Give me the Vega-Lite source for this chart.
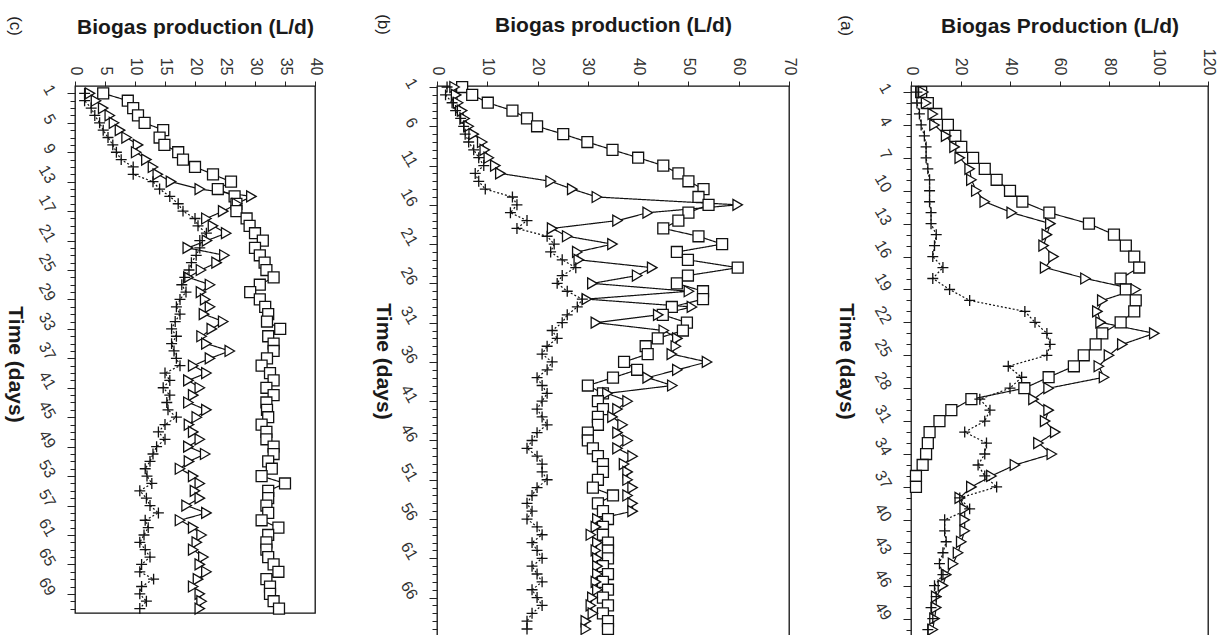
{
"$schema": "https://vega.github.io/schema/vega-lite/v6.json",
"padding": {"left": 3, "top": 13, "right": 10, "bottom": 0},
"bounds": "flush",
"spacing": 122,
"config": {
 "font": "Liberation Sans",
 "view": {"stroke": "#111", "strokeWidth": 1.3},
 "axis": {"grid": false, "domain": false, "labelFont": "Liberation Sans", "labelFontSize": 16, "labelColor": "#333", "titleFont": "Liberation Sans", "titleFontSize": 21, "titleFontWeight": "bold", "titleColor": "#1a1a1a", "tickColor": "#222", "labelOverlap": false, "labelFlush": false}
},
"datasets": {
"c": [
{"d":1,"s":4.7,"t":2.5,"p":1.6},{"d":2,"s":8.8,"t":3.5,"p":1.6},{"d":3,"s":9.7,"t":4.7,"p":2.7},{"d":4,"s":10.5,"t":5.8,"p":3.3},{"d":5,"s":11.6,"t":6.5,"p":4.1},
{"d":6,"s":14.7,"t":7.5,"p":4.7},{"d":7,"s":14.1,"t":8.6,"p":5.5},{"d":8,"s":14.9,"t":10.5,"p":6.3},{"d":9,"s":17.2,"t":10.2,"p":6.9},{"d":10,"s":18,"t":11.9,"p":7.7},
{"d":11,"s":20,"t":13,"p":9.7},{"d":12,"s":23,"t":13.8,"p":9.7},{"d":13,"s":26,"t":16,"p":13},{"d":14,"s":23.8,"t":20.8,"p":14.1},{"d":15,"s":26.6,"t":29.4,"p":15.8},
{"d":16,"s":26.9,"t":27,"p":17.2},{"d":17,"s":26.9,"t":24.7,"p":18},{"d":18,"s":28.6,"t":21.9,"p":20},{"d":19,"s":29.1,"t":23,"p":20.5},{"d":20,"s":30,"t":25.2,"p":21.9},
{"d":21,"s":31.3,"t":22,"p":20.8},{"d":22,"s":30,"t":18.8,"p":20.8},{"d":23,"s":30.8,"t":24.9,"p":20.2},{"d":24,"s":31.6,"t":23.6,"p":19.4},{"d":25,"s":31.9,"t":21,"p":19},
{"d":26,"s":33.1,"t":18.9,"p":18.3},{"d":27,"s":30.8,"t":22.5,"p":17.8},{"d":28,"s":29.2,"t":21,"p":18.5},{"d":29,"s":30.8,"t":21.7,"p":17.5},{"d":30,"s":31.7,"t":22.5,"p":16.9},
{"d":31,"s":32.2,"t":21.5,"p":17.5},{"d":32,"s":32,"t":24.7,"p":16.7},{"d":33,"s":34.2,"t":22.8,"p":16.1},{"d":34,"s":32.2,"t":21.1,"p":16.9},{"d":35,"s":33.1,"t":21.9,"p":16.1},
{"d":36,"s":33.1,"t":25.8,"p":16.5},{"d":37,"s":32,"t":22.5,"p":16.9},{"d":38,"s":31.1,"t":19.7,"p":17.5},{"d":39,"s":32.5,"t":21.9,"p":15},{"d":40,"s":33.1,"t":18.9,"p":15.8},
{"d":41,"s":31.9,"t":20.8,"p":14.7},{"d":42,"s":33.1,"t":19.7,"p":15.8},{"d":43,"s":31.9,"t":18.9,"p":15.3},{"d":44,"s":32,"t":21.9,"p":15.5},{"d":45,"s":32.2,"t":20.3,"p":16.9},
{"d":46,"s":31.1,"t":19,"p":15},{"d":47,"s":31.9,"t":19.7,"p":13.9},{"d":48,"s":31.9,"t":20.8,"p":15},{"d":49,"s":33.1,"t":18.9,"p":13.6},{"d":50,"s":33.1,"t":21.7,"p":13},
{"d":51,"s":32.2,"t":19,"p":12.5},{"d":52,"s":32.8,"t":17.5,"p":11.7},{"d":53,"s":31.1,"t":19.7,"p":12},{"d":54,"s":35,"t":20.8,"p":12.8},{"d":55,"s":32.2,"t":20,"p":10.8},
{"d":56,"s":32.2,"t":20.8,"p":11.9},{"d":57,"s":31.9,"t":18.6,"p":12.5},{"d":58,"s":32.2,"t":21.9,"p":13.9},{"d":59,"s":31.1,"t":17.5,"p":11.7},{"d":60,"s":33.9,"t":19.7,"p":12.2},
{"d":61,"s":32.2,"t":21.1,"p":11.5},{"d":62,"s":31.9,"t":20.3,"p":10.8},{"d":63,"s":31.9,"t":19.7,"p":11.7},{"d":64,"s":32.2,"t":21.4,"p":12.5},{"d":65,"s":33.1,"t":20.8,"p":11.1},
{"d":66,"s":33.9,"t":21.9,"p":10.8},{"d":67,"s":31.9,"t":20.5,"p":13.1},{"d":68,"s":32.5,"t":19.7,"p":11.1},{"d":69,"s":32.5,"t":20.8,"p":10.8},{"d":70,"s":33.1,"t":21.1,"p":11.9},
{"d":71,"s":34,"t":20.8,"p":10.8}
],
"b": [
{"d":1,"s":5,"t":3.5,"p":2},{"d":2,"s":7,"t":3.8,"p":1.7},{"d":3,"s":10.1,"t":4.2,"p":3},{"d":4,"s":15,"t":5,"p":3.7},{"d":5,"s":17.9,"t":5.5,"p":4.7},
{"d":6,"s":19.9,"t":6.3,"p":5.3},{"d":7,"s":25.1,"t":7.3,"p":5.6},{"d":8,"s":29.9,"t":9,"p":6.3},{"d":9,"s":34.9,"t":9.5,"p":7.3},{"d":10,"s":40,"t":10.3,"p":8.3},
{"d":11,"s":45,"t":11.6,"p":9.3},{"d":12,"s":48,"t":12.6,"p":7.6},{"d":13,"s":50,"t":22.6,"p":8.3},{"d":14,"s":53,"t":26.9,"p":9.6},{"d":15,"s":52,"t":31.8,"p":15},
{"d":16,"s":54,"t":59.8,"p":15.9},{"d":17,"s":50,"t":41.9,"p":14.6},{"d":18,"s":48,"t":35.9,"p":17.9},{"d":19,"s":45,"t":22.9,"p":15.9},{"d":20,"s":52,"t":25.9,"p":21.9},
{"d":21,"s":56.7,"t":34.9,"p":23.3},{"d":22,"s":47.7,"t":27.9,"p":22.6},{"d":23,"s":49.9,"t":28.2,"p":24.9},{"d":24,"s":59.8,"t":42.8,"p":27.6},{"d":25,"s":49.9,"t":39.8,"p":24.9},
{"d":26,"s":47.7,"t":30.9,"p":23.9},{"d":27,"s":52.9,"t":50.1,"p":25.9},{"d":28,"s":52.9,"t":29.8,"p":28.9},{"d":29,"s":46.7,"t":50.7,"p":27.9},{"d":30,"s":44.9,"t":44,"p":25.9},
{"d":31,"s":49.7,"t":31.6,"p":24.9},{"d":32,"s":48.9,"t":45.1,"p":22.9},{"d":33,"s":43.9,"t":47.8,"p":23.9},{"d":34,"s":41.5,"t":47.5,"p":21.9},{"d":35,"s":41.9,"t":46.7,"p":20.9},
{"d":36,"s":37.2,"t":53.7,"p":22.9},{"d":37,"s":39.8,"t":47.8,"p":21.9},{"d":38,"s":35,"t":41.9,"p":19.9},{"d":39,"s":30,"t":46.8,"p":20.9},{"d":40,"s":33,"t":33.9,"p":21.9},
{"d":41,"s":32,"t":37.9,"p":20.9},{"d":42,"s":33,"t":35.9,"p":19.9},{"d":43,"s":32,"t":34.9,"p":20.9},{"d":44,"s":32,"t":36.9,"p":21.9},{"d":45,"s":30,"t":35.9,"p":19.9},
{"d":46,"s":30,"t":37.9,"p":18.9},{"d":47,"s":31,"t":35.9,"p":17.9},{"d":48,"s":32,"t":38.9,"p":19.9},{"d":49,"s":33,"t":37.2,"p":20.9},{"d":50,"s":33,"t":37.9,"p":20.9},
{"d":51,"s":32,"t":37.9,"p":21.9},{"d":52,"s":31,"t":38.9,"p":19.9},{"d":53,"s":35,"t":37.9,"p":18.9},{"d":54,"s":32,"t":38.9,"p":17.9},{"d":55,"s":33,"t":38.9,"p":18.9},
{"d":56,"s":34,"t":31.9,"p":17.9},{"d":57,"s":33,"t":31.6,"p":19.9},{"d":58,"s":33,"t":30.6,"p":20.9},{"d":59,"s":34,"t":31.9,"p":18.9},{"d":60,"s":34,"t":31.6,"p":19.9},
{"d":61,"s":34,"t":31.9,"p":20.9},{"d":62,"s":33,"t":31.9,"p":18.9},{"d":63,"s":34,"t":31.9,"p":19.9},{"d":64,"s":33,"t":31.6,"p":20.9},{"d":65,"s":34,"t":31.9,"p":18.9},
{"d":66,"s":33,"t":30.9,"p":19.9},{"d":67,"s":34,"t":30.6,"p":20.9},{"d":68,"s":33,"t":31,"p":18.9},{"d":69,"s":34,"t":29.6,"p":17.9},{"d":70,"s":34,"t":29.6,"p":17.9}
],
"a": [
{"d":1,"s":4.1,"t":5,"p":2.4},{"d":2,"s":6.8,"t":6.1,"p":2.4},{"d":3,"s":10.2,"t":8.8,"p":3.4},{"d":4,"s":14.9,"t":9.5,"p":4.1},{"d":5,"s":17.9,"t":14.2,"p":5.4},
{"d":6,"s":20.3,"t":17.6,"p":6.1},{"d":7,"s":25.1,"t":19.7,"p":6.1},{"d":8,"s":29.8,"t":23.7,"p":6.8},{"d":9,"s":34.6,"t":24.4,"p":7.5},{"d":10,"s":40,"t":26.4,"p":7.5},
{"d":11,"s":45,"t":29.8,"p":7.5},{"d":12,"s":55.9,"t":40.7,"p":8.1},{"d":13,"s":71.9,"t":56.3,"p":8.1},{"d":14,"s":82,"t":54.9,"p":10.2},{"d":15,"s":86.8,"t":53.6,"p":9.5},
{"d":16,"s":90.2,"t":57.6,"p":8.8},{"d":17,"s":92.2,"t":54.2,"p":12.9},{"d":18,"s":84.7,"t":70.5,"p":8.8},{"d":19,"s":86.8,"t":90.8,"p":15.6},{"d":20,"s":90.8,"t":77.3,"p":23.7},
{"d":21,"s":90.2,"t":75.3,"p":46},{"d":22,"s":84.7,"t":76.6,"p":50.1},{"d":23,"s":77.3,"t":98.3,"p":54.9},{"d":24,"s":74.6,"t":85.4,"p":56.2},{"d":25,"s":69.8,"t":80,"p":54.9},
{"d":26,"s":65.8,"t":75.9,"p":39.3},{"d":27,"s":55.6,"t":78,"p":44.7},{"d":28,"s":45.8,"t":55.6,"p":40},{"d":29,"s":24.4,"t":49.5,"p":27.8},{"d":30,"s":16.3,"t":55.6,"p":31.9},
{"d":31,"s":11.5,"t":54.2,"p":29.8},{"d":32,"s":7.5,"t":58.3,"p":21.7},{"d":33,"s":6.8,"t":51.5,"p":30.5},{"d":34,"s":6.1,"t":56.9,"p":29.8},{"d":35,"s":4.7,"t":42,"p":27.1},
{"d":36,"s":2,"t":32.5,"p":29.8},{"d":37,"s":2,"t":24.4,"p":34.6},{"d":38,"t":19.7,"p":19.7},{"d":39,"t":21.7,"p":23.7},{"d":40,"t":21.7,"p":13.6},
{"d":41,"t":21.7,"p":13.6},{"d":42,"t":20.3,"p":14.2},{"d":43,"t":19,"p":12.9},{"d":44,"t":17,"p":11.5},{"d":45,"t":14.2,"p":12.9},
{"d":46,"t":12.9,"p":9.5},{"d":47,"t":10.2,"p":10.2},{"d":48,"t":10.2,"p":8.1},{"d":49,"t":9.5,"p":8.8},{"d":50,"t":8.8,"p":6.8}
]
},
"hconcat": [
{
 "width": 240, "height": 527,
 "data": {"name": "c"},
 "transform": [{"fold": ["s", "t", "p"], "as": ["series", "v"]}],
 "title": {"text": "(c)", "orient": "left", "anchor": "end", "frame": "bounds", "angle": 90, "align": "left", "baseline": "bottom", "fontSize": 17, "fontWeight": "normal", "font": "Liberation Sans", "color": "#222", "offset": -19},
 "encoding": {
  "y": {"field": "d", "type": "quantitative", "scale": {"domain": [0, 71.6], "reverse": true, "nice": false, "zero": false},
   "axis": {"orient": "left", "values": [1,2,3,4,5,6,7,8,9,10,11,12,13,14,15,16,17,18,19,20,21,22,23,24,25,26,27,28,29,30,31,32,33,34,35,36,37,38,39,40,41,42,43,44,45,46,47,48,49,50,51,52,53,54,55,56,57,58,59,60,61,62,63,64,65,66,67,68,69,70,71],
    "format": "d", "labelExpr": "(datum.value - 1) % 4 === 0 ? datum.label : ''", "labelAngle": 60, "labelAlign": "right", "labelBaseline": "middle", "labelPadding": 16,
    "tickSize": {"condition": {"test": "(datum.value - 1) % 4 === 0", "value": 8}, "value": 5},
    "title": "Time  (days)", "titleAngle": 90, "titleBaseline": "top", "titlePadding": 10, "titleY": 278}},
  "x": {"field": "v", "type": "quantitative", "scale": {"domain": [0, 40], "nice": false},
   "axis": {"orient": "top", "values": [0,5,10,15,20,25,30,35,40], "format": "d", "labelAngle": 90, "labelAlign": "right", "labelBaseline": "middle", "tickSize": 5, "labelPadding": 6, "title": "Biogas production (L/d)", "titlePadding": 20}}
 },
 "layer": [
  {"mark": {"type": "line", "stroke": "#111", "strokeWidth": 1.2},
   "encoding": {"detail": {"field": "series"}, "order": {"field": "d", "type": "quantitative"},
    "strokeDash": {"field": "series", "type": "nominal", "scale": {"domain": ["s", "t", "p"], "range": [[1, 0], [1, 0], [2, 2]]}, "legend": null}}},
  {"mark": {"type": "point", "filled": true, "fill": "white", "stroke": "#111", "strokeWidth": 1.3, "opacity": 1, "size": 120},
   "encoding": {"shape": {"field": "series", "type": "nominal", "scale": {"domain": ["s", "t", "p"], "range": ["square", "triangle-right", "M-1,0H1M0,-1V1"]}, "legend": null}}}
 ]
},
{
 "width": 352, "height": 550,
 "data": {"name": "b"},
 "transform": [{"fold": ["s", "t", "p"], "as": ["series", "v"]}],
 "title": {"text": "(b)", "orient": "left", "anchor": "end", "frame": "bounds", "angle": 90, "align": "left", "baseline": "bottom", "fontSize": 17, "fontWeight": "normal", "font": "Liberation Sans", "color": "#222", "offset": -19},
 "encoding": {
  "y": {"field": "d", "type": "quantitative", "scale": {"domain": [0.87, 70.89], "reverse": true, "nice": false, "zero": false},
   "axis": {"orient": "left", "values": [1,2,3,4,5,6,7,8,9,10,11,12,13,14,15,16,17,18,19,20,21,22,23,24,25,26,27,28,29,30,31,32,33,34,35,36,37,38,39,40,41,42,43,44,45,46,47,48,49,50,51,52,53,54,55,56,57,58,59,60,61,62,63,64,65,66,67,68,69,70],
    "format": "d", "labelExpr": "(datum.value - 1) % 5 === 0 ? datum.label : ''", "labelAngle": 60, "labelAlign": "right", "labelBaseline": "middle", "labelPadding": 16,
    "tickSize": {"condition": {"test": "(datum.value - 1) % 5 === 0", "value": 8}, "value": 5},
    "title": "Time (days)", "titleAngle": 90, "titleBaseline": "top", "titlePadding": 4}},
  "x": {"field": "v", "type": "quantitative", "scale": {"domain": [0, 70], "nice": false},
   "axis": {"orient": "top", "values": [0,10,20,30,40,50,60,70], "format": "d", "labelAngle": 90, "labelAlign": "right", "labelBaseline": "middle", "tickSize": 5, "labelPadding": 6, "title": "Biogas production (L/d)", "titlePadding": 22}}
 },
 "layer": [
  {"mark": {"type": "line", "stroke": "#111", "strokeWidth": 1.2},
   "encoding": {"detail": {"field": "series"}, "order": {"field": "d", "type": "quantitative"},
    "strokeDash": {"field": "series", "type": "nominal", "scale": {"domain": ["s", "t", "p"], "range": [[1, 0], [1, 0], [2, 2]]}, "legend": null}}},
  {"mark": {"type": "point", "filled": true, "fill": "white", "stroke": "#111", "strokeWidth": 1.3, "opacity": 1, "size": 120},
   "encoding": {"shape": {"field": "series", "type": "nominal", "scale": {"domain": ["s", "t", "p"], "range": ["square", "triangle-right", "M-1,0H1M0,-1V1"]}, "legend": null}}}
 ]
},
{
 "width": 297, "height": 550,
 "data": {"name": "a"},
 "transform": [{"fold": ["s", "t", "p"], "as": ["series", "v"]}],
 "title": {"text": "(a)", "orient": "left", "anchor": "end", "frame": "bounds", "angle": 90, "align": "left", "baseline": "bottom", "fontSize": 17, "fontWeight": "normal", "font": "Liberation Sans", "color": "#222", "offset": -19},
 "encoding": {
  "y": {"field": "d", "type": "quantitative", "scale": {"domain": [0.45, 50.59], "reverse": true, "nice": false, "zero": false},
   "axis": {"orient": "left", "values": [1,2,3,4,5,6,7,8,9,10,11,12,13,14,15,16,17,18,19,20,21,22,23,24,25,26,27,28,29,30,31,32,33,34,35,36,37,38,39,40,41,42,43,44,45,46,47,48,49,50],
    "format": "d", "labelExpr": "(datum.value - 1) % 3 === 0 ? datum.label : ''", "labelAngle": 60, "labelAlign": "right", "labelBaseline": "middle", "labelPadding": 16,
    "tickSize": {"condition": {"test": "(datum.value - 1) % 3 === 0", "value": 8}, "value": 5},
    "title": "Time (days)", "titleAngle": 90, "titleBaseline": "top", "titlePadding": 15}},
  "x": {"field": "v", "type": "quantitative", "scale": {"domain": [0, 120], "nice": false},
   "axis": {"orient": "top", "values": [0,20,40,60,80,100,120], "format": "d", "labelAngle": 90, "labelAlign": "right", "labelBaseline": "middle", "tickSize": 5, "labelPadding": 6, "title": "Biogas Production (L/d)", "titlePadding": 12}}
 },
 "layer": [
  {"mark": {"type": "line", "stroke": "#111", "strokeWidth": 1.2},
   "encoding": {"detail": {"field": "series"}, "order": {"field": "d", "type": "quantitative"},
    "strokeDash": {"field": "series", "type": "nominal", "scale": {"domain": ["s", "t", "p"], "range": [[1, 0], [1, 0], [2, 2]]}, "legend": null}}},
  {"mark": {"type": "point", "filled": true, "fill": "white", "stroke": "#111", "strokeWidth": 1.3, "opacity": 1, "size": 120},
   "encoding": {"shape": {"field": "series", "type": "nominal", "scale": {"domain": ["s", "t", "p"], "range": ["square", "triangle-right", "M-1,0H1M0,-1V1"]}, "legend": null}}}
 ]
}
]
}
